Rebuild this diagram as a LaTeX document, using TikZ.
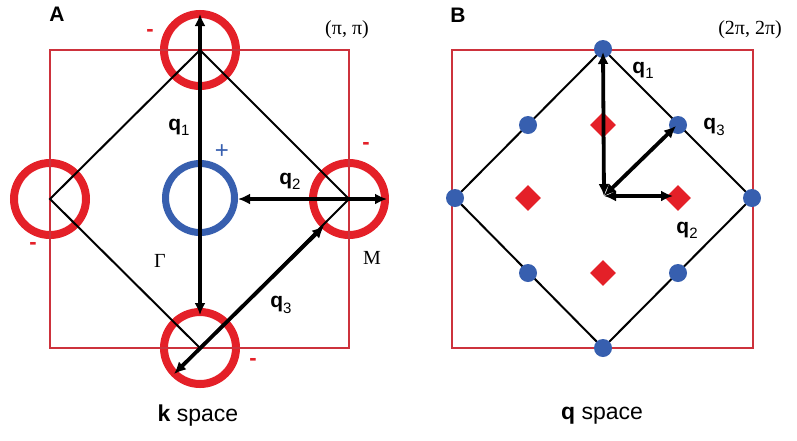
\documentclass[tikz,border=0pt]{standalone}
\usepackage{fontspec}
\setmainfont{Liberation Serif}
\setsansfont{Liberation Sans}
\usetikzlibrary{arrows.meta,shapes.geometric}
\definecolor{fsred}{RGB}{228,32,40}
\definecolor{bzred}{RGB}{205,50,60}
\definecolor{fsblue}{RGB}{55,95,175}
\newcommand{\qsub}[1]{\raisebox{-0.25em}{\mdseries\fontsize{15}{15}\selectfont #1}}
\tikzset{
  bz/.style={draw=bzred,line width=1.1pt},
  fs/.style={draw=black,line width=2pt},
  pocket/.style={circle,draw=fsred,line width=8pt,minimum size=72pt,inner sep=0pt},
  gpocket/.style={circle,draw=fsblue,line width=7pt,minimum size=69pt,inner sep=0pt},
  qvec/.style={line width=3.8pt,{Latex[length=12pt,width=11pt]}-{Latex[length=12pt,width=11pt]}},
  qlab/.style={font=\sffamily\bfseries\fontsize{21}{22}\selectfont},
  sgn/.style={text=fsred,font=\sffamily\bfseries\fontsize{22}{22}\selectfont},
  pl/.style={font=\sffamily\bfseries\fontsize{21}{22}\selectfont},
  ser/.style={font=\fontsize{20}{22}\selectfont},
  captext/.style={font=\sffamily\fontsize{23}{25}\selectfont},
  bdot/.style={circle,fill=fsblue,minimum size=18pt,inner sep=0pt},
  rdia/.style={diamond,fill=fsred,minimum size=26pt,inner sep=0pt},
}
\begin{document}
\begin{tikzpicture}[x=1pt,y=-1pt]
\useasboundingbox (0,0) rectangle (797,440);
% ---------- Panel A ----------
\coordinate (aT) at (200,50);
\coordinate (aL) at (50,199);
\coordinate (aR) at (349,199);
\coordinate (aB) at (200,348);
\node[pocket] (cT) at (aT) {};
\node[pocket] (cL) at (aL) {};
\node[pocket] (cR) at (aR) {};
\node[pocket] (cB) at (aB) {};
\node[gpocket] (cG) at (200,198) {};
\draw[bz] (50,50) rectangle (349,348);
\draw[fs] (aT) -- (aR) -- (aB) -- (aL) -- cycle;
\coordinate (q1a) at (200,14);
\coordinate (q1b) at (200,315);
\coordinate (q2a) at (238,199);
\coordinate (q2b) at (387,199);
\coordinate (q3a) at (174,374);
\coordinate (q3b) at (324,226);
\draw[qvec] (q1b) -- (q1a);
\draw[qvec] (q2a) -- (q2b);
\draw[qvec] (q3a) -- (q3b);
\node[qlab] (lq1) at (179,127) {q\qsub{1}};
\node[qlab] (lq2) at (290,181) {q\qsub{2}};
\node[qlab] (lq3) at (281,305) {q\qsub{3}};
\node[text=fsblue,font=\sffamily\fontsize{24}{24}\selectfont] (plus) at (222,152) {+};
\node[sgn] (m1) at (150,33) {-};
\node[sgn] (m2) at (366,146) {-};
\node[sgn] (m3) at (33,246) {-};
\node[sgn] (m4) at (253,362) {-};
\node[ser] (gam) at (160,261) {Γ};
\node[ser] (mm) at (372,258) {M};
\node[ser] (pp) at (347,30) {(π, π)};
\node[pl] (A) at (57,14) {A};
\node[captext] (ks) at (198,416) {\textbf{k} space};
% ---------- Panel B ----------
\draw[bz] (452,50) rectangle (753,348);
\coordinate (bT) at (603,49);
\coordinate (bL) at (455,198);
\coordinate (bR) at (752,198);
\coordinate (bB) at (603,348);
\draw[fs] (bT) -- (bR) -- (bB) -- (bL) -- cycle;
\node[bdot] (dT) at (bT) {};
\node[bdot] (dL) at (bL) {};
\node[bdot] (dR) at (bR) {};
\node[bdot] (dB) at (bB) {};
\node[bdot] (m12) at (528,125) {};
\node[bdot] (m23) at (678,125) {};
\node[bdot] (m34) at (528,273) {};
\node[bdot] (m41) at (678,273) {};
\node[rdia] (d1) at (603,125) {};
\node[rdia] (d2) at (528,198) {};
\node[rdia] (d3) at (678,198) {};
\node[rdia] (d4) at (603,273) {};
\coordinate (o) at (604,196);
\coordinate (t1) at (603,52);
\coordinate (t2) at (673,196);
\coordinate (t3) at (676,126);
\draw[qvec] (o) -- (t1);
\draw[qvec] (o) -- (t2);
\draw[qvec] (o) -- (t3);
\node[qlab] (bq1) at (643,70) {q\qsub{1}};
\node[qlab] (bq3) at (714,127) {q\qsub{3}};
\node[qlab] (bq2) at (687,230) {q\qsub{2}};
\node[ser] (pp2) at (750,30) {(2π, 2π)};
\node[pl] (B) at (458,15) {B};
\node[captext] (qs) at (602,416) {\textbf{q} space};
\end{tikzpicture}
\end{document}
